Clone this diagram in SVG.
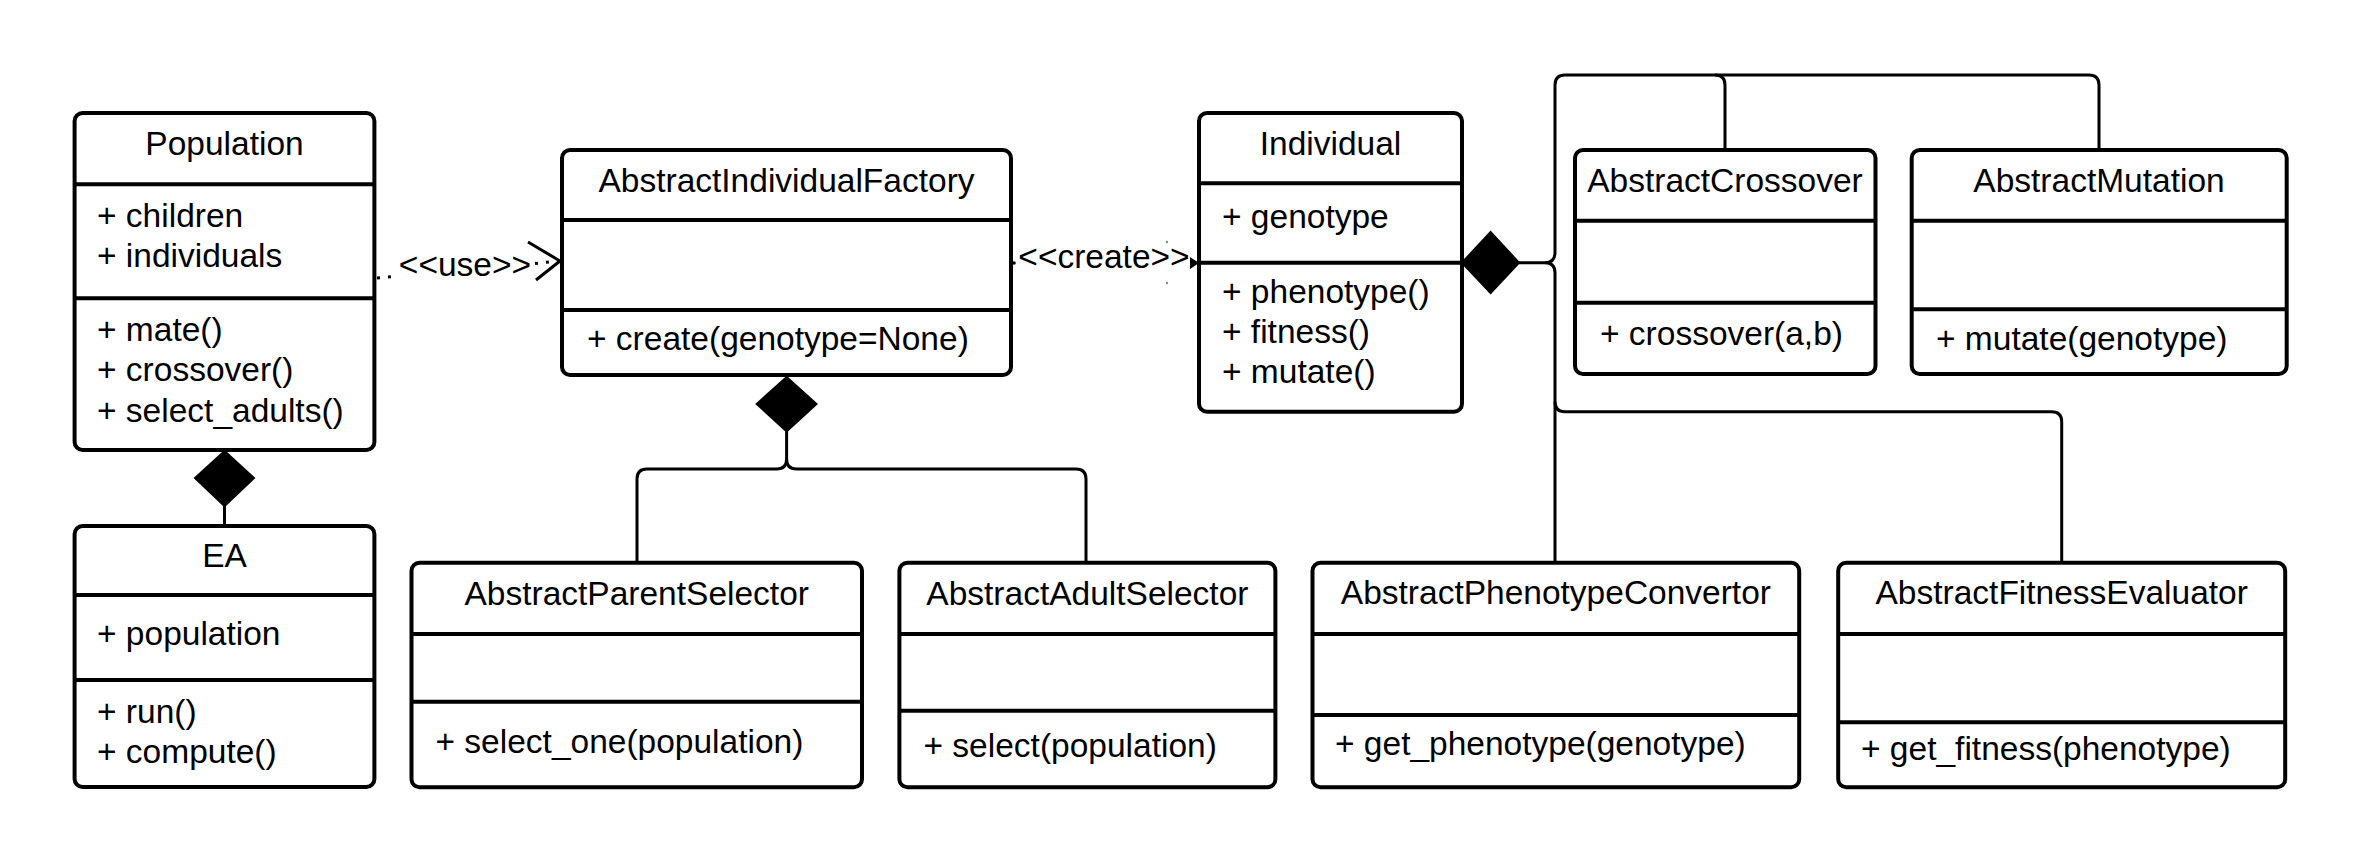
<svg xmlns="http://www.w3.org/2000/svg" width="2363" height="863" viewBox="0 0 2363 863">
<style>
.box{fill:#fff;stroke:#000;stroke-width:4}
.div{stroke:#000;stroke-width:4}
.t{font-family:"Liberation Sans",Arial,sans-serif;font-size:33.5px;fill:#000}
.c{text-anchor:middle}
.con{fill:none;stroke:#000;stroke-width:3;stroke-linejoin:round}
.dot{fill:none;stroke:#000;stroke-width:3;stroke-dasharray:3 8}
.dia{fill:#000;stroke:#000;stroke-width:2}
</style>
<rect width="2363" height="863" fill="#fff"/>
<g id="connectors">
  <!-- Population <>- EA -->
  <polygon class="dia" points="224.5,451 254,478 224.5,506 195,478"/>
  <line class="con" x1="224.5" y1="506" x2="224.5" y2="526"/>
  <!-- use -->
  <line class="dot" x1="377" y1="278" x2="398" y2="276"/>
  <line class="dot" x1="535" y1="263.5" x2="558" y2="261"/>
  <path class="con" d="M528,242 L560,261 L536,280"/>
  <text class="t c" x="465" y="276">&lt;&lt;use&gt;&gt;</text>
  <!-- create -->
  <circle cx="1014" cy="263" r="1.8" fill="#000"/>
  <circle cx="1167" cy="242" r="1.2" fill="#888"/>
  <circle cx="1167" cy="283" r="1.2" fill="#888"/>
  <polygon points="1190,257 1199,263 1190,269" fill="#000"/>
  <text class="t c" x="1104" y="268">&lt;&lt;create&gt;&gt;</text>
  <!-- Factory composition -->
  <polygon class="dia" points="786.6,377 816.5,404 786.6,431.5 756.7,404"/>
  <path class="con" d="M786.6,431.5 V459 Q786.6,469 776.6,469 H647 Q637,469 637,479 V562.7"/>
  <path class="con" d="M786.6,459 Q786.6,469 796.6,469 H1076 Q1086,469 1086,479 V562.7"/>
  <!-- Individual composition bus -->
  <polygon class="dia" points="1462,262.7 1490.6,232 1519,262.7 1490.6,293"/>
  <path class="con" d="M1519,262.7 H1545 Q1555,262.7 1555,252.7 V85 Q1555,75 1565,75 H1715 Q1725,75 1725,85 V150"/>
  <path class="con" d="M1715,75 H2089 Q2099,75 2099,85 V150"/>
  <path class="con" d="M1545,262.7 Q1555,262.7 1555,272.7 V562.7"/>
  <path class="con" d="M1555,401.7 Q1555,411.7 1565,411.7 H2051.7 Q2061.7,411.7 2061.7,421.7 V562.7"/>
</g>
<g id="population">
  <rect class="box" x="74.6" y="113" width="299.8" height="337" rx="8"/>
  <line class="div" x1="74.6" y1="184.3" x2="374.4" y2="184.3"/>
  <line class="div" x1="74.6" y1="298.3" x2="374.4" y2="298.3"/>
  <text class="t c" x="224.5" y="155">Population</text>
  <text class="t" x="97" y="227">+ children</text>
  <text class="t" x="97" y="267">+ individuals</text>
  <text class="t" x="97" y="340.5">+ mate()</text>
  <text class="t" x="97" y="381">+ crossover()</text>
  <text class="t" x="97" y="421.5">+ select_adults()</text>
</g>
<g id="ea">
  <rect class="box" x="74.6" y="526" width="299.8" height="261" rx="8"/>
  <line class="div" x1="74.6" y1="595" x2="374.4" y2="595"/>
  <line class="div" x1="74.6" y1="680" x2="374.4" y2="680"/>
  <text class="t c" x="224.5" y="567">EA</text>
  <text class="t" x="97" y="645">+ population</text>
  <text class="t" x="97" y="723">+ run()</text>
  <text class="t" x="97" y="763">+ compute()</text>
</g>
<g id="factory">
  <rect class="box" x="562" y="150" width="449" height="225" rx="8"/>
  <line class="div" x1="562" y1="220" x2="1011" y2="220"/>
  <line class="div" x1="562" y1="310" x2="1011" y2="310"/>
  <text class="t c" x="786.5" y="192">AbstractIndividualFactory</text>
  <text class="t" x="587" y="350">+ create(genotype=None)</text>
</g>
<g id="individual">
  <rect class="box" x="1199" y="113" width="263" height="298.7" rx="8"/>
  <line class="div" x1="1199" y1="183.3" x2="1462" y2="183.3"/>
  <line class="div" x1="1199" y1="262.7" x2="1462" y2="262.7"/>
  <text class="t c" x="1330.5" y="155">Individual</text>
  <text class="t" x="1222" y="228">+ genotype</text>
  <text class="t" x="1222" y="303">+ phenotype()</text>
  <text class="t" x="1222" y="343">+ fitness()</text>
  <text class="t" x="1222" y="383">+ mutate()</text>
</g>
<g id="crossover">
  <rect class="box" x="1575" y="150" width="300.5" height="224" rx="8"/>
  <line class="div" x1="1575" y1="220.7" x2="1875.5" y2="220.7"/>
  <line class="div" x1="1575" y1="302.7" x2="1875.5" y2="302.7"/>
  <text class="t c" x="1725" y="192">AbstractCrossover</text>
  <text class="t" x="1600" y="345">+ crossover(a,b)</text>
</g>
<g id="mutation">
  <rect class="box" x="1911.7" y="150" width="375" height="224" rx="8"/>
  <line class="div" x1="1911.7" y1="220.7" x2="2286.7" y2="220.7"/>
  <line class="div" x1="1911.7" y1="309.3" x2="2286.7" y2="309.3"/>
  <text class="t c" x="2099" y="192">AbstractMutation</text>
  <text class="t" x="1936" y="350">+ mutate(genotype)</text>
</g>
<g id="parentselector">
  <rect class="box" x="411.5" y="562.7" width="450.5" height="224.6" rx="8"/>
  <line class="div" x1="411.5" y1="634" x2="862" y2="634"/>
  <line class="div" x1="411.5" y1="701.7" x2="862" y2="701.7"/>
  <text class="t c" x="636.7" y="605">AbstractParentSelector</text>
  <text class="t" x="435.5" y="753">+ select_one(population)</text>
</g>
<g id="adultselector">
  <rect class="box" x="899.4" y="562.7" width="376" height="224.6" rx="8"/>
  <line class="div" x1="899.4" y1="634" x2="1275.4" y2="634"/>
  <line class="div" x1="899.4" y1="710.7" x2="1275.4" y2="710.7"/>
  <text class="t c" x="1087.4" y="605">AbstractAdultSelector</text>
  <text class="t" x="923.5" y="756.7">+ select(population)</text>
</g>
<g id="phenotypeconvertor">
  <rect class="box" x="1312.5" y="562.7" width="486.7" height="224.6" rx="8"/>
  <line class="div" x1="1312.5" y1="634" x2="1799.2" y2="634"/>
  <line class="div" x1="1312.5" y1="715" x2="1799.2" y2="715"/>
  <text class="t c" x="1555.9" y="604">AbstractPhenotypeConvertor</text>
  <text class="t" x="1335" y="755">+ get_phenotype(genotype)</text>
</g>
<g id="fitnessevaluator">
  <rect class="box" x="1838.2" y="562.7" width="447" height="224.6" rx="8"/>
  <line class="div" x1="1838.2" y1="634" x2="2285.2" y2="634"/>
  <line class="div" x1="1838.2" y1="722.3" x2="2285.2" y2="722.3"/>
  <text class="t c" x="2061.7" y="604">AbstractFitnessEvaluator</text>
  <text class="t" x="1861" y="760">+ get_fitness(phenotype)</text>
</g>
</svg>
